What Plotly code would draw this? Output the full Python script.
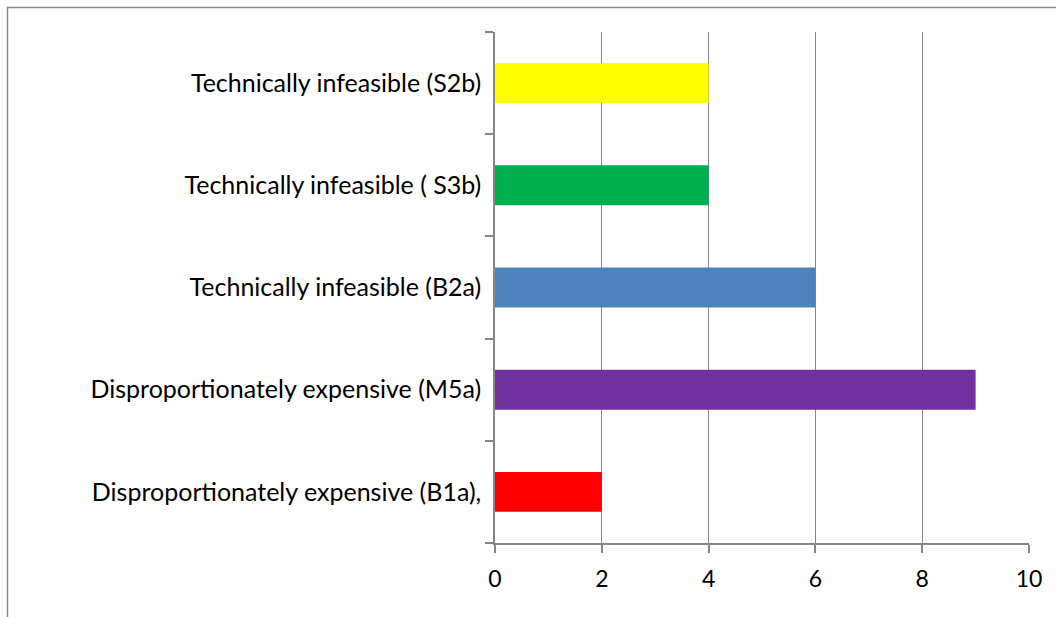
import plotly.graph_objects as go

categories = [
    "Disproportionately expensive (B1a),",
    "Disproportionately expensive (M5a)",
    "Technically infeasible (B2a)",
    "Technically infeasible ( S3b)",
    "Technically infeasible (S2b)",
]
values = [2, 9, 6, 4, 4]
colors = ["#FF0000", "#7030A0", "#4F81BD", "#00B050", "#FFFF00"]
x_ticks = [0, 2, 4, 6, 8, 10]

W, H = 1056, 617
L, R, T, B = 495, 1029, 32, 543
pw, ph = R - L, B - T

def px_to_paper_x(p):
    return (p - L) / pw

def px_to_paper_y(p):
    return (B - p) / ph

fig = go.Figure(
    go.Bar(
        x=values,
        y=categories,
        orientation="h",
        marker=dict(color=colors, line=dict(width=0)),
        width=0.39,
        hoverinfo="x+y",
    )
)

grid = "#868686"
fig.update_layout(
    width=W,
    height=H,
    margin=dict(l=L, r=W - R, t=T, b=H - B),
    paper_bgcolor="white",
    plot_bgcolor="white",
    showlegend=False,
    font=dict(family="Lato, Carlito, sans-serif", size=20, color="black"),
    xaxis=dict(
        range=[0, 10],
        tickvals=x_ticks,
        ticktext=[str(v) for v in x_ticks],
        showgrid=True,
        gridcolor=grid,
        gridwidth=1,
        zeroline=False,
        showline=True,
        linecolor=grid,
        linewidth=1.5,
        ticks="outside",
        ticklen=8,
        tickcolor=grid,
        tickwidth=1.5,
        ticklabelstandoff=7,
        tickfont=dict(size=23),
    ),
    yaxis=dict(
        type="category",
        categoryorder="array",
        categoryarray=categories,
        range=[-0.5, 4.5],
        showgrid=False,
        zeroline=False,
        showline=True,
        linecolor=grid,
        linewidth=1.5,
        ticks="outside",
        tickson="boundaries",
        ticklen=8,
        tickcolor=grid,
        tickwidth=1.5,
        ticklabelstandoff=7,
        tickfont=dict(size=25),
    ),
    shapes=[
        dict(
            type="rect",
            xref="paper",
            yref="paper",
            x0=px_to_paper_x(7.5),
            x1=px_to_paper_x(1065),
            y0=px_to_paper_y(630),
            y1=px_to_paper_y(7.5),
            line=dict(color=grid, width=1.5),
            fillcolor="rgba(0,0,0,0)",
            layer="below",
        )
    ],
)

fig.write_html("out.html")
